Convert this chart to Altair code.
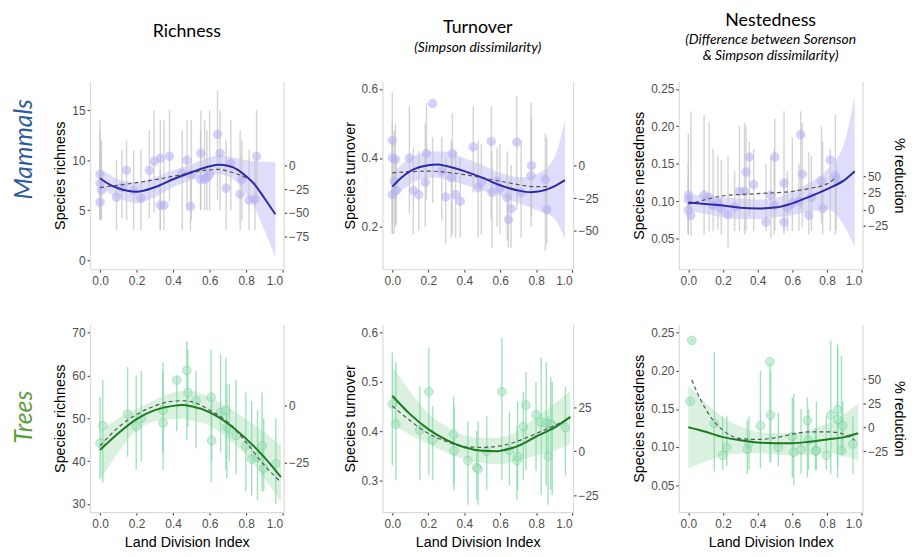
import altair as alt
import pandas as pd

# ---------------- axis ticks ----------------
x_ticks = [0.0, 0.2, 0.4, 0.6, 0.8, 1.0]

# ================= MAMMALS : RICHNESS =================
mr_x  = [0.0, 0.0, 0.008, 0.0, 0.09, 0.12, 0.145, 0.184, 0.224, 0.27, 0.296, 0.33, 0.33, 0.35, 0.38, 0.45, 0.476, 0.495, 0.5, 0.552, 0.55, 0.572, 0.585, 0.6, 0.643, 0.657, 0.69, 0.716, 0.767, 0.776, 0.816, 0.848, 0.857]
mr_y  = [8.6, 7.7, 7.0, 5.8, 6.3, 7.3, 9.0, 7.0, 6.2, 9.0, 9.9, 10.2, 5.5, 5.5, 10.4, 8.7, 10.0, 5.4, 8.6, 10.7, 8.1, 8.1, 8.25, 8.6, 12.6, 10.7, 7.2, 9.7, 6.6, 8.1, 6.0, 6.1, 10.4]
mr_lo = [4.2, 4.0, 4.0, 4.0, 3.0, 4.2, 4.0, 3.0, 3.0, 4.2, 4.8, 3.0, 3.0, 3.0, 5.8, 3.0, 5.0, 3.0, 4.0, 5.0, 5.0, 5.0, 5.0, 5.0, 6.0, 5.0, 3.0, 5.0, 3.0, 4.0, 3.0, 3.0, 6.0]
mr_hi = [14.0, 13.0, 12.0, 11.0, 10.0, 11.0, 12.0, 11.0, 11.0, 13.0, 15.0, 14.0, 9.0, 14.0, 15.0, 13.0, 14.0, 9.0, 14.0, 15.0, 13.0, 14.0, 13.0, 15.0, 17.0, 15.0, 12.0, 14.0, 13.0, 12.0, 11.0, 10.0, 15.0]
mr_fx  = [0.0, 0.05, 0.1, 0.15, 0.2, 0.3, 0.4, 0.5, 0.6, 0.65, 0.7, 0.75, 0.8, 0.85, 0.9, 0.96]
mr_fit = [8.2, 7.6, 7.2, 6.95, 6.85, 7.3, 8.1, 8.8, 9.4, 9.55, 9.45, 9.1, 8.4, 7.5, 6.2, 4.6]
mr_bhi = [9.1, 8.6, 8.1, 7.9, 7.8, 8.3, 9.0, 9.6, 10.3, 10.5, 10.4, 10.2, 10.0, 9.9, 9.85, 9.8]
mr_blo = [7.4, 6.7, 6.2, 5.9, 5.7, 6.3, 7.3, 8.0, 8.5, 8.6, 8.4, 7.8, 6.6, 5.1, 3.0, 0.3]
mr_dx  = [0.0, 0.1, 0.2, 0.3, 0.4, 0.5, 0.6, 0.65, 0.7, 0.8, 0.85]
mr_dy  = [7.27, 7.5, 7.76, 8.05, 8.4, 8.75, 9.05, 9.1, 8.9, 8.25, 7.7]
mr_ref = 9.44
mr_yt  = [0, 5, 10, 15]
mr_pt  = [-75, -50, -25, 0]

# ================= MAMMALS : TURNOVER =================
mt_x  = [0.0, 0.0, 0.017, 0.01, 0.0, 0.022, 0.095, 0.117, 0.147, 0.183, 0.19, 0.224, 0.275, 0.297, 0.334, 0.328, 0.352, 0.378, 0.45, 0.477, 0.495, 0.55, 0.554, 0.582, 0.598, 0.639, 0.66, 0.646, 0.692, 0.716, 0.771, 0.774, 0.851, 0.859]
mt_y  = [0.451, 0.40, 0.396, 0.333, 0.294, 0.306, 0.40, 0.306, 0.294, 0.33, 0.413, 0.558, 0.362, 0.287, 0.413, 0.343, 0.294, 0.275, 0.432, 0.314, 0.33, 0.448, 0.30, 0.333, 0.311, 0.285, 0.253, 0.222, 0.446, 0.30, 0.349, 0.378, 0.338, 0.251]
mt_lo = [0.18, 0.21, 0.20, 0.18, 0.18, 0.21, 0.24, 0.18, 0.19, 0.20, 0.28, 0.27, 0.22, 0.15, 0.18, 0.17, 0.17, 0.17, 0.30, 0.17, 0.18, 0.22, 0.14, 0.20, 0.18, 0.16, 0.14, 0.14, 0.25, 0.17, 0.20, 0.23, 0.13, 0.15]
mt_hi = [0.59, 0.50, 0.50, 0.48, 0.45, 0.40, 0.55, 0.43, 0.42, 0.50, 0.56, 0.46, 0.46, 0.40, 0.53, 0.45, 0.42, 0.40, 0.55, 0.45, 0.44, 0.55, 0.42, 0.43, 0.44, 0.42, 0.38, 0.33, 0.58, 0.45, 0.56, 0.52, 0.47, 0.46]
mt_fx  = [0.0, 0.05, 0.1, 0.2, 0.25, 0.3, 0.4, 0.5, 0.6, 0.7, 0.77, 0.8, 0.9, 0.96]
mt_fit = [0.317, 0.343, 0.362, 0.379, 0.381, 0.377, 0.362, 0.343, 0.321, 0.306, 0.301, 0.302, 0.318, 0.336]
mt_bhi = [0.357, 0.38, 0.40, 0.418, 0.42, 0.418, 0.40, 0.38, 0.357, 0.345, 0.345, 0.352, 0.40, 0.51]
mt_blo = [0.28, 0.305, 0.325, 0.342, 0.343, 0.338, 0.323, 0.305, 0.29, 0.27, 0.257, 0.25, 0.225, 0.165]
mt_dx  = [0.0, 0.2, 0.4, 0.6, 0.8, 0.86]
mt_dy  = [0.357, 0.362, 0.352, 0.333, 0.317, 0.317]
mt_ref = 0.378
mt_yt  = [0.2, 0.4, 0.6]
mt_pt  = [-50, -25, 0]

# ================= MAMMALS : NESTEDNESS =================
mn_x  = [0.0, 0.0, 0.0, 0.015, 0.091, 0.12, 0.143, 0.171, 0.19, 0.229, 0.267, 0.295, 0.324, 0.333, 0.352, 0.377, 0.448, 0.476, 0.499, 0.495, 0.552, 0.552, 0.571, 0.6, 0.638, 0.648, 0.657, 0.695, 0.71, 0.775, 0.768, 0.819, 0.848, 0.853]
mn_y  = [0.108, 0.102, 0.088, 0.081, 0.108, 0.105, 0.094, 0.098, 0.09, 0.082, 0.092, 0.113, 0.113, 0.139, 0.159, 0.122, 0.072, 0.108, 0.159, 0.094, 0.124, 0.072, 0.091, 0.097, 0.100, 0.189, 0.136, 0.081, 0.105, 0.090, 0.127, 0.155, 0.134, 0.129]
mn_lo = [0.055, 0.06, 0.055, 0.053, 0.055, 0.06, 0.06, 0.062, 0.055, 0.038, 0.06, 0.06, 0.055, 0.06, 0.08, 0.06, 0.06, 0.05, 0.06, 0.055, 0.055, 0.06, 0.06, 0.06, 0.06, 0.09, 0.065, 0.055, 0.06, 0.055, 0.07, 0.06, 0.055, 0.06]
mn_hi = [0.19, 0.15, 0.13, 0.22, 0.215, 0.205, 0.17, 0.16, 0.155, 0.16, 0.14, 0.20, 0.205, 0.20, 0.18, 0.17, 0.15, 0.16, 0.21, 0.17, 0.22, 0.13, 0.14, 0.185, 0.15, 0.22, 0.205, 0.165, 0.16, 0.18, 0.20, 0.17, 0.215, 0.15]
mn_fx  = [0.0, 0.1, 0.2, 0.3, 0.4, 0.5, 0.6, 0.7, 0.8, 0.9, 0.96]
mn_fit = [0.098, 0.096, 0.094, 0.091, 0.090, 0.0913, 0.097, 0.106, 0.116, 0.128, 0.140]
mn_bhi = [0.109, 0.107, 0.105, 0.103, 0.102, 0.104, 0.113, 0.125, 0.142, 0.178, 0.242]
mn_blo = [0.087, 0.083, 0.078, 0.076, 0.076, 0.078, 0.081, 0.086, 0.089, 0.067, 0.038]
mn_dx  = [0.0, 0.1, 0.2, 0.4, 0.6, 0.7, 0.8, 0.85]
mn_dy  = [0.096, 0.102, 0.107, 0.110, 0.113, 0.117, 0.123, 0.131]
mn_ref = 0.0889
mn_yt  = [0.05, 0.10, 0.15, 0.20, 0.25]
mn_pt  = [-25, 0, 25, 50]

# ================= TREES : RICHNESS =================
tr_x  = [0.0, 0.015, 0.151, 0.198, 0.226, 0.345, 0.345, 0.42, 0.475, 0.481, 0.525, 0.608, 0.611, 0.66, 0.689, 0.694, 0.708, 0.745, 0.798, 0.83, 0.862, 0.887, 0.896, 0.962]
tr_y  = [44.2, 48.3, 51.0, 48.1, 50.0, 51.9, 48.9, 58.9, 61.2, 56.0, 54.1, 54.9, 44.8, 51.4, 51.8, 47.9, 47.5, 46.0, 43.6, 40.5, 40.9, 43.6, 38.4, 39.4]
tr_lo = [36.0, 35.0, 41.0, 38.0, 40.0, 38.0, 42.0, 47.0, 45.0, 48.0, 43.0, 35.0, 40.0, 42.0, 38.0, 36.0, 40.0, 37.0, 33.0, 32.0, 31.0, 33.0, 33.0, 30.0]
tr_hi = [55.0, 59.0, 62.0, 60.0, 61.0, 63.0, 61.0, 60.0, 68.0, 66.0, 61.0, 66.0, 56.0, 65.0, 64.0, 58.0, 58.0, 59.0, 56.0, 54.0, 52.0, 56.0, 50.0, 50.0]
tr_fx  = [0.0, 0.1, 0.2, 0.3, 0.4, 0.45, 0.5, 0.6, 0.7, 0.8, 0.9, 0.99]
tr_fit = [42.6, 46.5, 49.8, 51.9, 52.9, 53.1, 52.8, 51.4, 48.8, 45.2, 40.9, 36.3]
tr_bhi = [47.1, 50.0, 52.2, 54.3, 56.0, 56.4, 56.4, 54.9, 52.6, 49.8, 46.8, 43.6]
tr_blo = [35.5, 42.0, 47.1, 49.3, 49.8, 49.9, 49.5, 48.3, 45.2, 41.3, 36.0, 30.5]
tr_dx  = [0.0, 0.1, 0.2, 0.3, 0.4, 0.45, 0.5, 0.6, 0.7, 0.8, 0.9, 0.98]
tr_dy  = [43.6, 47.9, 50.9, 52.9, 54.0, 54.1, 53.9, 51.9, 49.1, 44.4, 39.0, 35.5]
tr_ref = 52.95
tr_yt  = [30, 40, 50, 60, 70]
tr_pt  = [-25, 0]

# ================= TREES : TURNOVER =================
tt_x  = [0.0, 0.02, 0.153, 0.203, 0.224, 0.341, 0.343, 0.42, 0.469, 0.477, 0.525, 0.609, 0.651, 0.693, 0.697, 0.728, 0.743, 0.799, 0.828, 0.856, 0.866, 0.881, 0.889, 0.962]
tt_y  = [0.455, 0.414, 0.402, 0.48, 0.382, 0.393, 0.36, 0.34, 0.326, 0.323, 0.359, 0.48, 0.361, 0.34, 0.348, 0.409, 0.453, 0.433, 0.418, 0.416, 0.349, 0.414, 0.411, 0.407]
tt_lo = [0.33, 0.30, 0.30, 0.31, 0.30, 0.29, 0.28, 0.25, 0.26, 0.25, 0.28, 0.30, 0.29, 0.26, 0.28, 0.30, 0.32, 0.32, 0.27, 0.29, 0.25, 0.28, 0.27, 0.31]
tt_hi = [0.56, 0.54, 0.49, 0.57, 0.45, 0.47, 0.45, 0.42, 0.40, 0.42, 0.43, 0.59, 0.44, 0.41, 0.46, 0.48, 0.52, 0.50, 0.55, 0.54, 0.43, 0.51, 0.50, 0.49]
tt_fx  = [0.0, 0.1, 0.2, 0.3, 0.4, 0.5, 0.58, 0.6, 0.7, 0.8, 0.9, 0.99]
tt_fit = [0.472, 0.434, 0.404, 0.382, 0.367, 0.360, 0.359, 0.360, 0.370, 0.389, 0.407, 0.429]
tt_bhi = [0.532, 0.48, 0.436, 0.41, 0.391, 0.386, 0.386, 0.387, 0.40, 0.428, 0.455, 0.482]
tt_blo = [0.414, 0.392, 0.374, 0.356, 0.343, 0.335, 0.333, 0.333, 0.34, 0.35, 0.36, 0.374]
tt_dx  = [0.0, 0.1, 0.2, 0.3, 0.4, 0.5, 0.6, 0.7, 0.8, 0.9, 0.96]
tt_dy  = [0.451, 0.421, 0.395, 0.379, 0.368, 0.367, 0.370, 0.380, 0.395, 0.411, 0.421]
tt_ref = 0.3588
tt_yt  = [0.3, 0.4, 0.5, 0.6]
tt_pt  = [-25, 0, 25]

# ================= TREES : NESTEDNESS =================
tn_x  = [0.02, 0.01, 0.15, 0.198, 0.222, 0.34, 0.35, 0.416, 0.471, 0.475, 0.519, 0.6, 0.608, 0.65, 0.687, 0.693, 0.733, 0.739, 0.796, 0.822, 0.861, 0.861, 0.883, 0.891, 0.95]
tn_y  = [0.24, 0.160, 0.131, 0.089, 0.0995, 0.097, 0.105, 0.128, 0.212, 0.142, 0.0995, 0.114, 0.093, 0.097, 0.135, 0.109, 0.095, 0.095, 0.089, 0.142, 0.149, 0.136, 0.095, 0.128, 0.104]
tn_lo = [0.238, 0.158, 0.068, 0.07, 0.075, 0.065, 0.07, 0.072, 0.08, 0.08, 0.075, 0.06, 0.05, 0.065, 0.06, 0.07, 0.07, 0.07, 0.07, 0.065, 0.075, 0.06, 0.09, 0.09, 0.065]
tn_hi = [0.242, 0.162, 0.225, 0.14, 0.14, 0.135, 0.14, 0.20, 0.21, 0.20, 0.145, 0.165, 0.17, 0.15, 0.165, 0.15, 0.125, 0.16, 0.14, 0.24, 0.235, 0.23, 0.22, 0.16, 0.14]
tn_fx  = [0.0, 0.1, 0.2, 0.3, 0.4, 0.5, 0.6, 0.7, 0.8, 0.9, 0.98]
tn_fit = [0.126, 0.120, 0.113, 0.109, 0.106, 0.105, 0.105, 0.107, 0.110, 0.113, 0.118]
tn_bhi = [0.181, 0.158, 0.139, 0.127, 0.120, 0.118, 0.118, 0.122, 0.131, 0.143, 0.157]
tn_blo = [0.072, 0.081, 0.089, 0.091, 0.092, 0.090, 0.089, 0.090, 0.092, 0.088, 0.083]
tn_dx  = [0.02, 0.05, 0.1, 0.15, 0.2, 0.3, 0.4, 0.5, 0.6, 0.7, 0.8, 0.88, 0.96]
tn_dy  = [0.188, 0.172, 0.150, 0.133, 0.122, 0.111, 0.110, 0.112, 0.117, 0.120, 0.120, 0.118, 0.109]
tn_ref = 0.126
tn_yt  = [0.05, 0.10, 0.15, 0.20, 0.25]
tn_pt  = [-25, 0, 25, 50]

# ---------------- styling ----------------
MAM = dict(pt="#b4aef5", stroke="#b4aef5", err="#c4c4c4", line="#2b2ba6", band="#d9d7fb", ptop=0.55, errop=0.75)
TRE = dict(pt="#9fe2bb", stroke="#6cc892", err="#7fd9a4", line="#1c7a1f", band="#d3eed9", ptop=0.55, errop=0.75)
LBL_FONT = "Liberation Sans"
TTL_FONT = "Lato"
XDOM = [-0.055, 1.005]


def panel(px, py, plo, phi, fx, fit, blo, bhi, dx, dy, ydom, yticks, yfmt,
          ytitle, ref, pticks, ptitle, sty, xtitle, w, title=None):
    pts = pd.DataFrame({"x": px, "y": py, "lo": plo, "hi": phi})
    fdf = pd.DataFrame({"x": fx, "fit": fit, "blo": blo, "bhi": bhi})
    ddf = pd.DataFrame({"x": dx, "d": dy})
    pdf = pd.DataFrame({"p": pticks})

    xs = alt.Scale(domain=XDOM, nice=False, zero=False)
    xax = alt.Axis(values=x_ticks, format=".1f", title=xtitle, labelPadding=4, titlePadding=6)
    ys = alt.Scale(domain=ydom, nice=False, zero=False)
    yax = alt.Axis(values=yticks, format=yfmt, title=ytitle)

    def X():
        return alt.X("x:Q", scale=xs, axis=xax)

    band = alt.Chart(fdf).mark_area(color=sty["band"], opacity=0.85, interpolate="monotone").encode(
        x=X(), y=alt.Y("blo:Q", scale=ys, axis=yax), y2="bhi:Q")
    err = alt.Chart(pts).mark_rule(color=sty["err"], strokeWidth=1.4, opacity=sty["errop"]).encode(
        x=X(), y=alt.Y("lo:Q", scale=ys, axis=yax), y2="hi:Q")
    dots = alt.Chart(pts).mark_circle(size=75, color=sty["pt"], opacity=sty["ptop"],
                                      stroke=sty["stroke"], strokeWidth=1).encode(
        x=X(), y=alt.Y("y:Q", scale=ys, axis=yax))
    dash = alt.Chart(ddf).mark_line(color="#555555", strokeWidth=1.2, strokeDash=[4, 3],
                                    interpolate="monotone").encode(
        x=X(), y=alt.Y("d:Q", scale=ys, axis=yax))
    solid = alt.Chart(fdf).mark_line(color=sty["line"], strokeWidth=2, interpolate="monotone").encode(
        x=X(), y=alt.Y("fit:Q", scale=ys, axis=yax))
    main = alt.layer(band, err, dots, dash, solid)

    pdom = [(ydom[0] / ref - 1) * 100, (ydom[1] / ref - 1) * 100]
    pax_kw = dict(orient="right", values=pticks, format="d")
    pax_kw["title"] = ptitle if ptitle else ""
    right = alt.Chart(pdf).mark_point(opacity=0).encode(
        y=alt.Y("p:Q", scale=alt.Scale(domain=pdom, nice=False, zero=False),
                axis=alt.Axis(**pax_kw)))
    ch = alt.layer(main, right).resolve_scale(y="independent").properties(width=w, height=190)
    if title is not None:
        ch = ch.properties(title=title)
    return ch


def col_title(text, sub, off):
    kw = dict(text=text, fontSize=18, font=TTL_FONT, fontWeight="normal", color="black",
              anchor="middle", frame="group", offset=off)
    if sub:
        kw.update(subtitle=sub, subtitleFont=TTL_FONT, subtitleFontSize=14,
                  subtitleFontStyle="italic", subtitleColor="black", subtitlePadding=4,
                  subtitleLineHeight=15.5)
    return alt.TitleParams(**kw)


W1, W2, W3 = 196, 193, 186

m1 = panel(mr_x, mr_y, mr_lo, mr_hi, mr_fx, mr_fit, mr_blo, mr_bhi, mr_dx, mr_dy,
           [-0.9, 17.9], mr_yt, "d", "Species richness", mr_ref, mr_pt, None, MAM, None, W1,
           col_title("Richness", None, 41))
m2 = panel(mt_x, mt_y, mt_lo, mt_hi, mt_fx, mt_fit, mt_blo, mt_bhi, mt_dx, mt_dy,
           [0.078, 0.622], mt_yt, ".1f", "Species turnover", mt_ref, mt_pt, None, MAM, None, W2,
           col_title("Turnover", "(Simpson dissimilarity)", 27))
m3 = panel(mn_x, mn_y, mn_lo, mn_hi, mn_fx, mn_fit, mn_blo, mn_bhi, mn_dx, mn_dy,
           [0.009, 0.260], mn_yt, ".2f", "Species nestedness", mn_ref, mn_pt, "% reduction", MAM, None, W3,
           col_title("Nestedness", ["(Difference between Sorenson", "& Simpson dissimilarity)"], 19))

t1 = panel(tr_x, tr_y, tr_lo, tr_hi, tr_fx, tr_fit, tr_blo, tr_bhi, tr_dx, tr_dy,
           [28.1, 71.9], tr_yt, "d", "Species richness", tr_ref, tr_pt, None, TRE, "Land Division Index", W1)
t2 = panel(tt_x, tt_y, tt_lo, tt_hi, tt_fx, tt_fit, tt_blo, tt_bhi, tt_dx, tt_dy,
           [0.235, 0.617], tt_yt, ".1f", "Species turnover", tt_ref, tt_pt, None, TRE, "Land Division Index", W2)
t3 = panel(tn_x, tn_y, tn_lo, tn_hi, tn_fx, tn_fit, tn_blo, tn_bhi, tn_dx, tn_dy,
           [0.0144, 0.261], tn_yt, ".2f", "Species nestedness", tn_ref, tn_pt, "% reduction", TRE, "Land Division Index", W3)

row1 = alt.hconcat(m1, m2, m3, spacing=33,
                   title=alt.TitleParams("Mammals", orient="left", anchor="middle", fontSize=25,
                                         fontStyle="italic", font=TTL_FONT, fontWeight="normal",
                                         color="#2f5c98", offset=16))
row2 = alt.hconcat(t1, t2, t3, spacing=33,
                   title=alt.TitleParams("Trees", orient="left", anchor="middle", fontSize=25,
                                         fontStyle="italic", font=TTL_FONT, fontWeight="normal",
                                         color="#5b9e3a", offset=16, dx=20))

chart = alt.vconcat(row1, row2, spacing=38).properties(
    padding={"left": 4, "top": 0, "right": 0, "bottom": 0}
).configure_view(stroke=None).configure_axis(
    grid=False, domainColor="#dadada", domainWidth=1.2, tickColor="#333333", tickSize=3,
    labelColor="#4d4d4d", labelFontSize=12, labelFont=LBL_FONT, labelPadding=2,
    titleFont=LBL_FONT, titleFontSize=14.5, titleFontWeight="normal", titleColor="black",
    titlePadding=4,
)

chart.save("out.html", embed_options={"renderer": "svg", "actions": False})
